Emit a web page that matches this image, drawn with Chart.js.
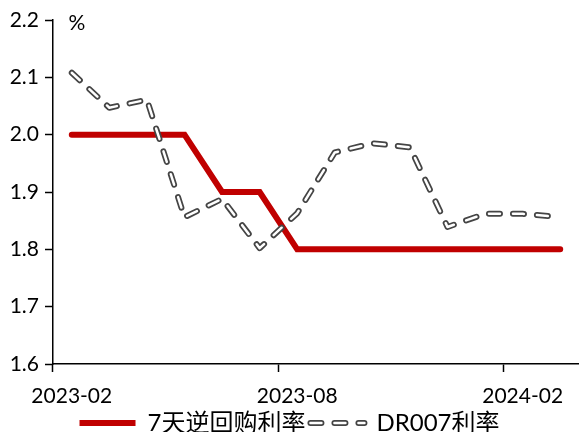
<!DOCTYPE html>
<html>
<head>
<meta charset="utf-8">
<script src="https://cdn.jsdelivr.net/npm/chart.js@4/dist/chart.umd.min.js"></script>
<style>
  html, body { margin: 0; padding: 0; background: #fff; }
  #wrap { width: 579px; height: 432px; }
</style>
</head>
<body>
<div id="wrap"><canvas id="chart" width="579" height="432"></canvas></div>
<script>
// monthly data, 2023-02 .. 2024-03
const months = ['2023-02', '2023-03', '2023-04', '2023-05', '2023-06', '2023-07', '2023-08',
  '2023-09', '2023-10', '2023-11', '2023-12', '2024-01', '2024-02', '2024-03'];
const repo7d = [2.0, 2.0, 2.0, 2.0, 1.9, 1.9, 1.8, 1.8, 1.8, 1.8, 1.8, 1.8, 1.8, 1.8];
const dr007 = [2.108, 2.047, 2.061, 1.856, 1.888, 1.802, 1.863, 1.969, 1.985, 1.978, 1.839, 1.862, 1.862, 1.856];
const seriesNames = ['7天逆回购利率', 'DR007利率'];
const yTicks = [1.6, 1.7, 1.8, 1.9, 2.0, 2.1, 2.2];
const unitLabel = '%';

const FONT = "Lato, 'Noto Sans CJK SC', sans-serif";
const RED = '#C00000';
const GREY = '#454545';
const DASH = [11, 13];
const SAMPLE_W = 56;

Chart.defaults.font.family = FONT;
Chart.defaults.color = '#000';

// draws the "%" unit and the hollow dashed DR007 legend sample
const extras = {
  id: 'extras',
  afterDraw(chart) {
    const ctx = chart.ctx;
    ctx.save();
    ctx.font = '21px ' + FONT;
    ctx.fillStyle = '#000';
    ctx.textAlign = 'center';
    ctx.textBaseline = 'middle';
    ctx.fillText(unitLabel, chart.chartArea.left + 24, chart.chartArea.top + 3);

    const lg = chart.legend;
    lg.legendItems.forEach((item, i) => {
      if (item.datasetIndex !== 1) return;
      const hb = lg.legendHitBoxes[i];
      const cy = hb.top + hb.height / 2;
      ctx.lineCap = 'round';
      ctx.setLineDash(DASH);
      [[GREY, 6], ['#fff', 2.5]].forEach(([col, lw]) => {
        ctx.strokeStyle = col;
        ctx.lineWidth = lw;
        ctx.beginPath();
        ctx.moveTo(hb.left + 2, cy);
        ctx.lineTo(hb.left + SAMPLE_W, cy);
        ctx.stroke();
      });
    });
    ctx.restore();
  }
};

new Chart(document.getElementById('chart'), {
  type: 'line',
  data: {
    labels: months,
    datasets: [
      {
        label: seriesNames[0],
        data: repo7d,
        borderColor: RED,
        backgroundColor: RED,
        borderWidth: 6,
        borderCapStyle: 'round',
        borderJoinStyle: 'miter',
        pointRadius: 0,
        order: 2
      },
      {
        label: seriesNames[1],
        data: dr007,
        borderColor: GREY,
        backgroundColor: GREY,
        borderWidth: 6,
        borderDash: DASH,
        borderCapStyle: 'round',
        borderJoinStyle: 'round',
        pointRadius: 0,
        order: 1
      },
      {
        label: 'inner',
        data: dr007,
        borderColor: '#fff',
        borderWidth: 2.5,
        borderDash: DASH,
        borderCapStyle: 'round',
        borderJoinStyle: 'round',
        pointRadius: 0,
        order: 0
      }
    ]
  },
  options: {
    responsive: false,
    animation: false,
    layout: { padding: { top: 20, right: 0, left: 0, bottom: -13 } },
    plugins: {
      tooltip: { enabled: false },
      legend: {
        position: 'bottom',
        labels: {
          font: { size: 24 },
          usePointStyle: true,
          pointStyleWidth: SAMPLE_W,
          pointStyle: 'line',
          padding: 3,
          generateLabels: chart => {
            const items = Chart.defaults.plugins.legend.labels.generateLabels(chart)
              .filter(it => it.datasetIndex !== 2)
              .sort((a, b) => a.datasetIndex - b.datasetIndex);
            items.forEach(it => {
              if (it.datasetIndex === 1) it.strokeStyle = 'rgba(0,0,0,0)';
            });
            return items;
          }
        }
      }
    },
    scales: {
      x: {
        type: 'category',
        offset: true,
        grid: {
          offset: true,
          drawOnChartArea: false,
          tickLength: 8,
          tickWidth: 1.5,
          tickColor: c => (c.index % 6 === 0 ? '#000' : 'rgba(0,0,0,0)')
        },
        border: { color: '#000', width: 1.5 },
        ticks: {
          autoSkip: false,
          maxRotation: 0,
          padding: 12,
          font: { size: 21 },
          callback: (v, i) => (i % 6 === 0 ? months[i] : '')
        },
        afterFit: s => { s.height = 44; }
      },
      y: {
        min: 1.6,
        max: 2.2,
        afterBuildTicks: s => { s.ticks = yTicks.map(v => ({ value: v })); },
        grid: { drawOnChartArea: false, tickLength: 8, tickWidth: 1.5, tickColor: '#000' },
        border: { color: '#000', width: 1.5 },
        ticks: {
          padding: 6,
          font: { size: 21 },
          callback: v => v.toFixed(1)
        },
        afterFit: s => { s.width = 53; }
      }
    }
  },
  plugins: [extras]
});
</script>
</body>
</html>
